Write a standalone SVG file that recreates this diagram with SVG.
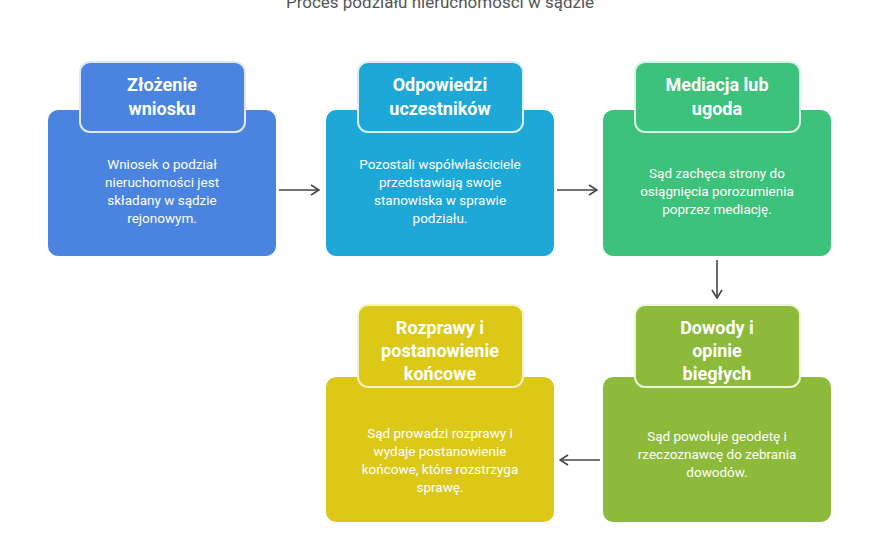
<svg xmlns="http://www.w3.org/2000/svg" width="880" height="540" viewBox="0 0 880 540">
<style>
.t{font-family:Roboto,"Liberation Sans",sans-serif;fill:#fff;text-anchor:middle}
.h{font-size:18px;font-weight:bold}
.b{font-size:13.5px}
.c{fill:none;stroke:#444;stroke-width:1.6}
.hd{stroke-width:2}
</style>
<defs><marker id="a" markerWidth="10" markerHeight="12" refX="9" refY="6" orient="auto" markerUnits="userSpaceOnUse"><path d="M1 1 L9 6 L1 11" fill="none" stroke="#444" stroke-width="1.6"/></marker></defs>
<rect width="880" height="540" fill="#fff"/>
<text x="440" y="8" font-family="Roboto,'Liberation Sans',sans-serif" font-size="17" fill="#555" text-anchor="middle">Proces podziału nieruchomości w sądzie</text>
<g id="connectors">
<path class="c" d="M279 190 H319" marker-end="url(#a)"/>
<path class="c" d="M557 190 H597" marker-end="url(#a)"/>
<path class="c" d="M717 260 V298" marker-end="url(#a)"/>
<path class="c" d="M600 460 H560" marker-end="url(#a)"/>
</g>
<g id="n1">
<rect x="48" y="110" width="228" height="146" rx="10" fill="#4A84E0"/>
<rect class="hd" x="80" y="62" width="165" height="70" rx="10" fill="#4A84E0" stroke="#dfe9fb"/>
<text class="t h" x="162" y="91">Złożenie</text><text class="t h" x="162" y="115">wniosku</text>
<text class="t b" x="162" y="169">Wniosek o podział</text><text class="t b" x="162" y="187">nieruchomości jest</text><text class="t b" x="162" y="205">składany w sądzie</text><text class="t b" x="162" y="223">rejonowym.</text>
</g>
<g id="n2">
<rect x="326" y="110" width="228" height="146" rx="10" fill="#1EA8D8"/>
<rect class="hd" x="358" y="62" width="165" height="70" rx="10" fill="#1EA8D8" stroke="#d8f0fa"/>
<text class="t h" x="440" y="91">Odpowiedzi</text><text class="t h" x="440" y="115">uczestników</text>
<text class="t b" x="440" y="169">Pozostali współwłaściciele</text><text class="t b" x="440" y="187">przedstawiają swoje</text><text class="t b" x="440" y="205">stanowiska w sprawie</text><text class="t b" x="440" y="223">podziału.</text>
</g>
<g id="n3">
<rect x="603" y="110" width="228" height="146" rx="10" fill="#3CC27A"/>
<rect class="hd" x="635" y="62" width="165" height="70" rx="10" fill="#3CC27A" stroke="#daf4e5"/>
<text class="t h" x="717" y="91">Mediacja lub</text><text class="t h" x="717" y="115">ugoda</text>
<text class="t b" x="717" y="178">Sąd zachęca strony do</text><text class="t b" x="717" y="196">osiągnięcia porozumienia</text><text class="t b" x="717" y="214">poprzez mediację.</text>
</g>
<g id="n4">
<rect x="603" y="377" width="228" height="145" rx="10" fill="#8DBA3A"/>
<rect class="hd" x="635" y="305" width="165" height="82" rx="10" fill="#8DBA3A" stroke="#eef5d9"/>
<text class="t h" x="717" y="334">Dowody i</text><text class="t h" x="717" y="357">opinie</text><text class="t h" x="717" y="380">biegłych</text>
<text class="t b" x="717" y="441">Sąd powołuje geodetę i</text><text class="t b" x="717" y="459">rzeczoznawcę do zebrania</text><text class="t b" x="717" y="477">dowodów.</text>
</g>
<g id="n5">
<rect x="326" y="377" width="228" height="145" rx="10" fill="#DCC816"/>
<rect class="hd" x="358" y="305" width="165" height="82" rx="10" fill="#DCC816" stroke="#f7f0c0"/>
<text class="t h" x="440" y="334">Rozprawy i</text><text class="t h" x="440" y="357">postanowienie</text><text class="t h" x="440" y="380">końcowe</text>
<text class="t b" x="440" y="438">Sąd prowadzi rozprawy i</text><text class="t b" x="440" y="456">wydaje postanowienie</text><text class="t b" x="440" y="474">końcowe, które rozstrzyga</text><text class="t b" x="440" y="492">sprawę.</text>
</g>
</svg>
